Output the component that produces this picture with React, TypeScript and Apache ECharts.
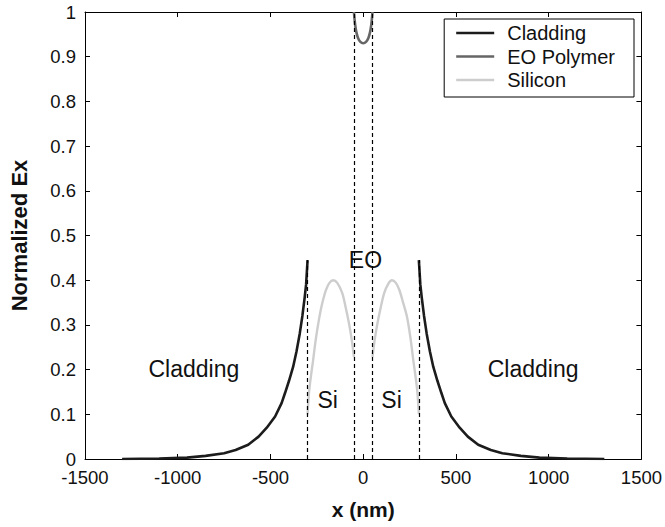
import React, { useEffect, useRef } from "react";
import * as echarts from "echarts";

// Field profile of Ex across the slot waveguide, region by region
const cladLeftX = [-1300, -1100, -950, -850, -750, -688, -620, -564, -520, -475, -440, -422, -400, -378, -360, -342, -328, -316, -308, -300];
const cladLeftY = [0, 0.001, 0.003, 0.007, 0.013, 0.02, 0.032, 0.05, 0.07, 0.095, 0.125, 0.147, 0.175, 0.206, 0.24, 0.281, 0.32, 0.36, 0.39, 0.445];
const cladRightX = [300, 308, 316, 328, 342, 360, 378, 400, 422, 440, 475, 520, 564, 620, 688, 750, 850, 950, 1100, 1300];
const cladRightY = [0.445, 0.39, 0.36, 0.32, 0.281, 0.24, 0.206, 0.175, 0.147, 0.125, 0.095, 0.07, 0.05, 0.032, 0.02, 0.013, 0.007, 0.003, 0.001, 0];

const siLeftX = [-300, -292, -282, -272, -255, -236, -220, -201, -182, -162, -140, -113, -95, -77, -63, -54, -50];
const siLeftY = [0.1, 0.15, 0.185, 0.215, 0.27, 0.318, 0.35, 0.378, 0.394, 0.4, 0.394, 0.371, 0.34, 0.304, 0.27, 0.242, 0.228];
const siRightX = [50, 54, 63, 77, 95, 113, 135, 155, 176, 195, 215, 236, 255, 272, 282, 292, 300];
const siRightY = [0.228, 0.242, 0.27, 0.304, 0.34, 0.371, 0.392, 0.4, 0.394, 0.378, 0.35, 0.318, 0.27, 0.215, 0.185, 0.15, 0.1];

const eoX = [-50, -47, -43, -37, -28, -15, 0, 15, 28, 37, 43, 47, 50];
const eoY = [1.0, 0.985, 0.97, 0.955, 0.942, 0.933, 0.93, 0.933, 0.942, 0.955, 0.97, 0.985, 1.0];

// Material interfaces (dashed) and the height each guide reaches
const boundaryX = [-300, -50, 50, 300];
const boundaryTop = [0.445, 1, 1, 0.445];

// Region labels
const annoText = ["Cladding", "Si", "EO", "Si", "Cladding"];
const annoX = [-913, -192, 12, 153, 916];
const annoY = [0.202, 0.132, 0.445, 0.132, 0.202];

const legendNames = ["Cladding", "EO Polymer", "Silicon"];

const X_MIN = -1500;
const X_MAX = 1500;
const X_STEP = 500;
const Y_MIN = 0;
const Y_MAX = 1;
const Y_STEP = 0.1;

const FONT = "'Liberation Sans', Arial, Helvetica, sans-serif";

const pairs = (xs: number[], ys: number[]) => xs.map((x, i) => [x, ys[i]]);

export default function App() {
  const ref = useRef<HTMLDivElement>(null);

  useEffect(() => {
    if (!ref.current) return;
    const chart = echarts.init(ref.current, undefined, { renderer: "svg" });

    const CLAD = "#1c1c1c";
    const EO = "#666666";
    const SI = "#cdcdcd";

    const axisCommon = {
      type: "value" as const,
      axisLine: { show: true, onZero: false, lineStyle: { color: "#000", width: 1 } },
      axisTick: { show: true, inside: true, length: 5, lineStyle: { color: "#000" } },
      splitLine: { show: false },
    };

    const option: any = {
      animation: false,
      backgroundColor: "#ffffff",
      textStyle: { fontFamily: FONT },
      grid: { left: 77, right: 23, top: 12, bottom: 68, containLabel: false },
      legend: {
        data: legendNames,
        orient: "vertical",
        right: 31,
        top: 19,
        icon: "rect",
        itemWidth: 38,
        itemHeight: 2.5,
        itemGap: 3.5,
        padding: [4, 19, 7, 12],
        borderColor: "#000",
        borderWidth: 1,
        backgroundColor: "#fff",
        selectedMode: false,
        textStyle: { fontFamily: FONT, fontSize: 20, color: "#111", lineHeight: 20, padding: [0, 0, 0, 8] },
      },
      xAxis: [
        {
          ...axisCommon,
          position: "bottom",
          min: X_MIN,
          max: X_MAX,
          interval: X_STEP,
          name: "x (nm)",
          nameLocation: "middle",
          nameGap: 40,
          nameTextStyle: { fontFamily: FONT, fontSize: 21, fontWeight: "bold", color: "#111" },
          axisLabel: {
            fontFamily: FONT,
            fontSize: 18.5,
            color: "#111",
            margin: 9,
            formatter: (v: number) => String(v),
          },
        },
        {
          ...axisCommon,
          position: "top",
          min: X_MIN,
          max: X_MAX,
          interval: X_STEP,
          axisLabel: { show: false },
        },
      ],
      yAxis: [
        {
          ...axisCommon,
          position: "left",
          min: Y_MIN,
          max: Y_MAX,
          interval: Y_STEP,
          name: "Normalized Ex",
          nameLocation: "middle",
          nameGap: 55,
          nameTextStyle: { fontFamily: FONT, fontSize: 22, fontWeight: "bold", color: "#111" },
          axisLabel: { fontFamily: FONT, fontSize: 18.5, color: "#111", margin: 9 },
        },
        {
          ...axisCommon,
          position: "right",
          min: Y_MIN,
          max: Y_MAX,
          interval: Y_STEP,
          axisLabel: { show: false },
        },
      ],
      series: [
        {
          name: "Cladding",
          type: "line",
          symbol: "none",
          data: pairs(cladLeftX, cladLeftY),
          lineStyle: { color: CLAD, width: 2.6 },
          itemStyle: { color: CLAD },
          z: 3,
        },
        {
          name: "Cladding",
          type: "line",
          symbol: "none",
          data: pairs(cladRightX, cladRightY),
          lineStyle: { color: CLAD, width: 2.6 },
          itemStyle: { color: CLAD },
          z: 3,
        },
        {
          name: "EO Polymer",
          type: "line",
          symbol: "none",
          smooth: 0.3,
          data: pairs(eoX, eoY),
          lineStyle: { color: EO, width: 2.6 },
          itemStyle: { color: EO },
          z: 3,
        },
        {
          name: "Silicon",
          type: "line",
          symbol: "none",
          smooth: 0.3,
          data: pairs(siLeftX, siLeftY),
          lineStyle: { color: SI, width: 2.4 },
          itemStyle: { color: SI },
          z: 3,
        },
        {
          name: "Silicon",
          type: "line",
          symbol: "none",
          smooth: 0.3,
          data: pairs(siRightX, siRightY),
          lineStyle: { color: SI, width: 2.4 },
          itemStyle: { color: SI },
          z: 3,
        },
        {
          name: "regions",
          type: "scatter",
          symbolSize: 0,
          itemStyle: { color: "#111", opacity: 1 },
          silent: true,
          z: 4,
          data: annoText.map((t, i) => ({ name: t, value: [annoX[i], annoY[i]] })),
          label: {
            show: true,
            position: "inside",
            formatter: "{b}",
            fontFamily: FONT,
            fontSize: 23,
            color: "#111",
            opacity: 1,
            textBorderWidth: 0,
          },
          markLine: {
            silent: true,
            symbol: "none",
            label: { show: false },
            lineStyle: { color: "#000", width: 1.2, type: [4, 3], opacity: 1 },
            data: boundaryX.map((x, i) => [
              { coord: [x, 0] },
              { coord: [x, boundaryTop[i]] },
            ]),
          },
        },
      ],
    };

    chart.setOption(option);
    return () => chart.dispose();
  }, []);

  return (
    <div
      ref={ref}
      style={{ position: "absolute", left: 0, top: 0, width: 665, height: 527, background: "#fff" }}
    />
  );
}
